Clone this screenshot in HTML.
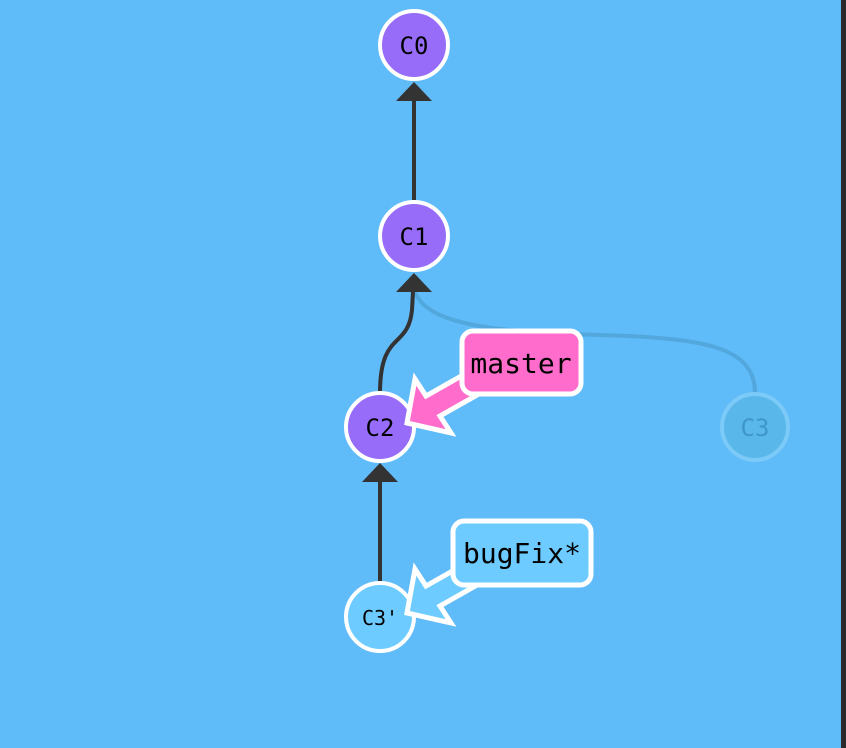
<!DOCTYPE html>
<html><head><meta charset="utf-8"><style>
html,body{margin:0;padding:0;background:#60bbf9;width:846px;height:748px;overflow:hidden}
svg{display:block}
text{font-family:"DejaVu Sans Mono","Liberation Mono",monospace}
</style></head><body>
<svg width="846" height="748" viewBox="0 0 846 748">
<rect width="846" height="748" fill="#60bbf9"/>
<rect x="841" y="0" width="5" height="748" fill="#2a2a2a"/>
<!-- ghost C3 -->
<path d="M755,393 C755,345 700,338 600,335 C480,332 425,322 414,290" fill="none" stroke="#4fa3d6" stroke-width="4" opacity="0.8"/>
<circle cx="755" cy="427" r="33" fill="#5ab7ea" stroke="#7ccaf7" stroke-width="4"/>
<text x="755" y="436" text-anchor="middle" font-size="24" fill="#3f96c8">C3</text>
<!-- edges -->
<line x1="414" y1="200" x2="414" y2="98" stroke="#333" stroke-width="4"/>
<polygon points="414,82 396,101 432,101" fill="#333"/>
<path d="M380,393 C380,330 408,350 412,310 L413,292" fill="none" stroke="#333" stroke-width="4"/>
<polygon points="414,273 396,292 432,292" fill="#333"/>
<line x1="380" y1="584" x2="380" y2="480" stroke="#333" stroke-width="4"/>
<polygon points="380,463 362,482 398,482" fill="#333"/>
<!-- nodes -->
<circle cx="414" cy="45" r="34" fill="#976cf8" stroke="#fff" stroke-width="4"/>
<text x="414" y="54" text-anchor="middle" font-size="24" fill="#000">C0</text>
<circle cx="414" cy="236" r="34" fill="#976cf8" stroke="#fff" stroke-width="4"/>
<text x="414" y="245" text-anchor="middle" font-size="24" fill="#000">C1</text>
<circle cx="380" cy="427" r="34" fill="#976cf8" stroke="#fff" stroke-width="4"/>
<text x="380" y="436" text-anchor="middle" font-size="24" fill="#000">C2</text>
<circle cx="380" cy="617" r="34" fill="#6dcbff" stroke="#fff" stroke-width="4"/>
<text x="380" y="625" text-anchor="middle" font-size="20" fill="#000">C3'</text>
<!-- master -->
<polygon points="407,423 451,433 440,416 500,382 486,362 426,396 415,379" fill="#ff6ccc" stroke="#fff" stroke-width="5"/>
<rect x="462" y="331" width="119" height="63" rx="11" fill="#ff6ccc" stroke="#fff" stroke-width="5"/>
<text x="521" y="373" text-anchor="middle" font-size="28" fill="#000">master</text>
<!-- bugFix -->
<polygon points="407,613 451,623 440,606 500,572 486,552 426,586 415,569" fill="#6dcbff" stroke="#fff" stroke-width="5"/>
<rect x="453" y="521" width="138" height="64" rx="11" fill="#6dcbff" stroke="#fff" stroke-width="5"/>
<text x="522" y="563" text-anchor="middle" font-size="28" fill="#000">bugFix*</text>
</svg>
</body></html>
